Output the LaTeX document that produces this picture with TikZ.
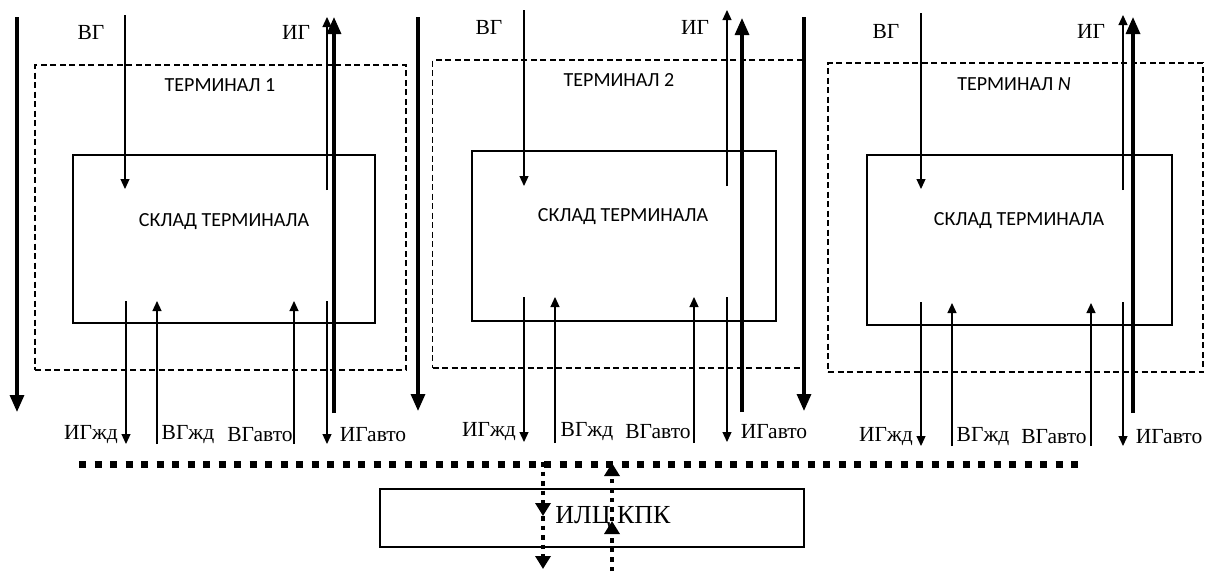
\documentclass[tikz,border=0pt]{standalone}
\usepackage{fontspec}
\setmainfont{Liberation Serif}
\newfontfamily\calib{Carlito}
\usetikzlibrary{arrows.meta}
\begin{document}
\begin{tikzpicture}[x=1pt,y=-1pt,
  thinar/.style={line width=1.2pt,-{Triangle[length=10pt,width=9pt]}},
  thickar/.style={line width=3.2pt,-{Triangle[length=17pt,width=14pt]}},
  termbox/.style={draw,line width=1.2pt,dash pattern=on 6pt off 3.5pt,inner sep=0pt},
  storebox/.style={draw,line width=1.1pt,inner sep=0pt},
  termlbl/.style={font=\calib\fontsize{20}{24}\selectfont,inner sep=0pt},
  flowlbl/.style={font=\fontsize{21.5}{25}\selectfont,inner sep=0pt},
  busline/.style={line width=7pt,dash pattern=on 7pt off 8.5pt},
  busar/.style={line width=4.5pt,dash pattern=on 4.5pt off 5pt,-{Triangle[length=13pt,width=15pt]}}
]
\useasboundingbox (0,0) rectangle (1206,571);
\fill[white] (0,0) rectangle (1206,571);

% ---------- Terminal 1 ----------
\node[termbox,minimum width=371pt,minimum height=305pt] (t1) at (220.5,217.5) {};
\node[storebox,minimum width=302pt,minimum height=168pt] (s1) at (224,239) {};
\node[termlbl] (t1l) at (220,85) {ТЕРМИНАЛ 1};
\node[termlbl] (s1l) at (224,222) {СКЛАД ТЕРМИНАЛА};
\node[flowlbl] (t1vg) at (91,32) {ВГ};
\node[flowlbl] (t1ig) at (296,32) {ИГ};
\node[flowlbl] (t1ij) at (91,435) {ИГжд};
\node[flowlbl] (t1vj) at (188,435) {ВГжд};
\node[flowlbl] (t1va) at (260,435) {ВГавто};
\node[flowlbl] (t1ia) at (373,435) {ИГавто};
\coordinate (t1vgA) at (125,15);  \coordinate (t1vgB) at (125,189);
\coordinate (t1igA) at (327,190); \coordinate (t1igB) at (327,17);
\coordinate (t1thA) at (334,413); \coordinate (t1thB) at (334,17);
\coordinate (t1ijA) at (126,301); \coordinate (t1ijB) at (126,444);
\coordinate (t1vjA) at (157,444); \coordinate (t1vjB) at (157,301);
\coordinate (t1vaA) at (294,444); \coordinate (t1vaB) at (294,301);
\coordinate (t1iaA) at (327,301); \coordinate (t1iaB) at (327,444);
\coordinate (L1A) at (17,17); \coordinate (L1B) at (17,412);

% ---------- Terminal 2 ----------
\node[termbox,minimum width=373pt,minimum height=308pt] (t2) at (619,214) {};
\node[storebox,minimum width=304pt,minimum height=170pt] (s2) at (624,236) {};
\node[termlbl] (t2l) at (619,80) {ТЕРМИНАЛ 2};
\node[termlbl] (s2l) at (623,217) {СКЛАД ТЕРМИНАЛА};
\node[flowlbl] (t2vg) at (489,27) {ВГ};
\node[flowlbl] (t2ig) at (695,27) {ИГ};
\node[flowlbl] (t2ij) at (489,432) {ИГжд};
\node[flowlbl] (t2vj) at (587,432) {ВГжд};
\node[flowlbl] (t2va) at (658,432) {ВГавто};
\node[flowlbl] (t2ia) at (774,432) {ИГавто};
\coordinate (t2vgA) at (524,10);  \coordinate (t2vgB) at (524,186);
\coordinate (t2igA) at (727,186); \coordinate (t2igB) at (727,10);
\coordinate (t2thA) at (742,412); \coordinate (t2thB) at (742,18);
\coordinate (t2ijA) at (524,297); \coordinate (t2ijB) at (524,442);
\coordinate (t2vjA) at (555,443); \coordinate (t2vjB) at (555,297);
\coordinate (t2vaA) at (694,443); \coordinate (t2vaB) at (694,297);
\coordinate (t2iaA) at (727,297); \coordinate (t2iaB) at (727,442);
\coordinate (L2A) at (418,17); \coordinate (L2B) at (418,411);
\coordinate (R2A) at (804,17); \coordinate (R2B) at (804,411);

% ---------- Terminal N ----------
\node[termbox,minimum width=375pt,minimum height=309pt] (tn) at (1015.5,217.5) {};
\node[storebox,minimum width=305pt,minimum height=170pt] (sn) at (1019.5,240) {};
\node[termlbl] (tnl) at (1014,84) {ТЕРМИНАЛ \textit{N}};
\node[termlbl] (snl) at (1019,221) {СКЛАД ТЕРМИНАЛА};
\node[flowlbl] (tnvg) at (886,31) {ВГ};
\node[flowlbl] (tnig) at (1091,31) {ИГ};
\node[flowlbl] (tnij) at (886,437) {ИГжд};
\node[flowlbl] (tnvj) at (983,437) {ВГжд};
\node[flowlbl] (tnva) at (1054,437) {ВГавто};
\node[flowlbl] (tnia) at (1169,437) {ИГавто};
\coordinate (tnvgA) at (921,13);  \coordinate (tnvgB) at (921,189);
\coordinate (tnigA) at (1123,190); \coordinate (tnigB) at (1123,15);
\coordinate (tnthA) at (1133,413); \coordinate (tnthB) at (1133,17);
\coordinate (tnijA) at (921,302); \coordinate (tnijB) at (921,446);
\coordinate (tnvjA) at (952,446); \coordinate (tnvjB) at (952,303);
\coordinate (tnvaA) at (1091,446); \coordinate (tnvaB) at (1091,303);
\coordinate (tniaA) at (1123,302); \coordinate (tniaB) at (1123,446);

% ---------- arrows ----------
\foreach \t in {t1,t2,tn}{
  \draw[thinar] (\t vgA) -- (\t vgB);
  \draw[thinar] (\t igA) -- (\t igB);
  \draw[thickar] (\t thA) -- (\t thB);
  \draw[thinar] (\t ijA) -- (\t ijB);
  \draw[thinar] (\t vjA) -- (\t vjB);
  \draw[thinar] (\t vaA) -- (\t vaB);
  \draw[thinar] (\t iaA) -- (\t iaB);
}
\draw[thickar] (L1A) -- (L1B);
\draw[thickar] (L2A) -- (L2B);
\draw[thickar] (R2A) -- (R2B);

% ---------- bus and ILC ----------
\coordinate (busL) at (79,464); \coordinate (busR) at (1080,464);
\draw[busline] (busL) -- (busR);
\node[storebox,line width=1.4pt,minimum width=424pt,minimum height=58pt] (ilc) at (592,518) {};
\node[font=\fontsize{26}{30}\selectfont,inner sep=0pt] (ilcl) at (613,518) {ИЛЦ КПК};
\coordinate (d1) at (543,462); \coordinate (d2) at (543,516); \coordinate (d3) at (543,569);
\coordinate (u1) at (612,571); \coordinate (u2) at (612,521); \coordinate (u3) at (612,463);
\draw[busar] (d1) -- (d2);
\draw[busar] (d2) -- (d3);
\draw[busar] (u1) -- (u2);
\draw[busar] (u2) -- (u3);
\end{tikzpicture}
\end{document}
